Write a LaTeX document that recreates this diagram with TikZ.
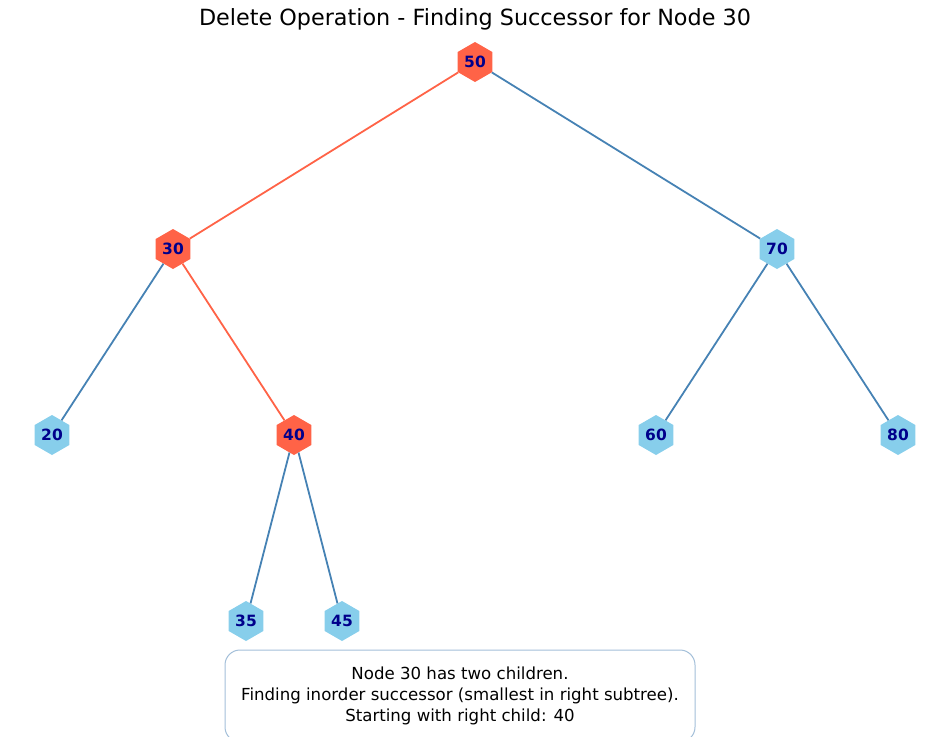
\documentclass[tikz,border=0pt]{standalone}
\usepackage{fontspec}
\setmainfont{DejaVu Sans}
\usetikzlibrary{shapes.geometric}
\definecolor{skyblue}{HTML}{87CEEB}
\definecolor{tomato}{HTML}{FF6347}
\definecolor{steelblue}{HTML}{4682B4}
\definecolor{labelnavy}{HTML}{00008B}
\definecolor{boxedge}{HTML}{A3BFD9}
\tikzstyle{hexnode}=[
        regular polygon,
        regular polygon sides=6,
        shape border rotate=30,
        minimum size=40pt,
        inner sep=0pt,
        fill=skyblue,
        text=labelnavy,
        font=\fontsize{15.5}{18}\selectfont\bfseries
]
\tikzstyle{onpath}=[
        hexnode,
        fill=tomato
]
\tikzstyle{treeedge}=[
        draw=steelblue,
        line width=1.8pt
]
\tikzstyle{pathedge}=[
        draw=tomato,
        line width=1.8pt
]
\tikzstyle{infobox}=[
        draw=boxedge,
        line width=1pt,
        rounded corners=15pt,
        fill=white,
        minimum width=470pt,
        minimum height=92pt,
        align=center,
        font=\fontsize{16.6}{21}\selectfont
]

\begin{document}
\begin{tikzpicture}[x=1pt,y=-1pt]
                    \useasboundingbox (0,0) rectangle (950,736);
                    \clip (0,0) rectangle (950,736);

                    \node[font=\fontsize{22.3}{26}\selectfont] (title) at (475,19) {Delete Operation - Finding Successor for Node 30};

                    \node[onpath] (n50) at (475,62) {50};
                    \node[onpath] (n30) at (173,249) {30};
                    \node[hexnode] (n70) at (777,249) {70};
                    \node[hexnode] (n20) at (52,435) {20};
                    \node[onpath] (n40) at (294,435) {40};
                    \node[hexnode] (n60) at (656,435) {60};
                    \node[hexnode] (n80) at (898,435) {80};
                    \node[hexnode] (n35) at (246,621) {35};
                    \node[hexnode] (n45) at (342,621) {45};

                    \draw[pathedge] (n50) -- (n30);
                    \draw[pathedge] (n30) -- (n40);

                    \foreach \a/\b in {n50/n70,n30/n20,n70/n60,n70/n80,n40/n35,n40/n45} {
                        \draw[treeedge] (\a) -- (\b);
                    }

                    \node[infobox] (info) at (460,696) {Node 30 has two children.\\Finding inorder successor (smallest in right subtree).\\Starting with right child: 40};

                \end{tikzpicture}
\end{document}
